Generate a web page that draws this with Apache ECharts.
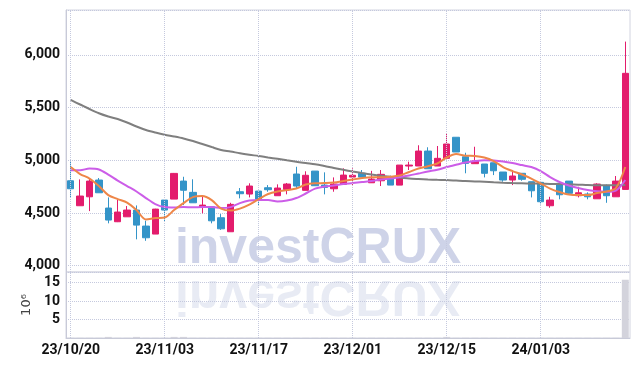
<!DOCTYPE html>
<html>
<head>
<meta charset="utf-8">
<script src="https://cdn.jsdelivr.net/npm/echarts@6/dist/echarts.min.js"></script>
<style>
html,body{margin:0;padding:0;background:#fff;}
#chart{width:639px;height:366px;}
</style>
</head>
<body>
<div id="chart"></div>
<script>
const dates = ['23/10/20','23/10/23','23/10/24','23/10/25','23/10/26','23/10/27','23/10/30','23/10/31','23/11/01','23/11/02',
'23/11/03','23/11/06','23/11/07','23/11/08','23/11/09','23/11/10','23/11/13','23/11/14','23/11/15','23/11/16',
'23/11/17','23/11/20','23/11/21','23/11/22','23/11/23','23/11/24','23/11/27','23/11/28','23/11/29','23/11/30',
'23/12/01','23/12/04','23/12/05','23/12/06','23/12/07','23/12/08','23/12/11','23/12/12','23/12/13','23/12/14',
'23/12/15','23/12/18','23/12/19','23/12/20','23/12/21','23/12/22','23/12/26','23/12/27','23/12/28','24/01/02',
'24/01/03','24/01/04','24/01/05','24/01/08','24/01/09','24/01/10','24/01/11','24/01/12','24/01/15','24/01/16'];

const open  = [4806,4569,4654,4813,4547,4417,4464,4528,4376,4300, 4623,4632,4803,4696,4554,4559,4455,4322,4702,4680,
               4708,4740,4664,4724,4870,4715,4898,4765,4730,4772, 4841,4877,4787,4806,4829,4765,4946,4946,5088,4946,
               5019,5219,5034,4968,4965,4977,4889,4813,4877,4797, 4791,4569,4782,4803,4664,4680,4635,4762,4654,4724];
const close = [4730,4661,4803,4692,4433,4509,4528,4385,4265,4537, 4528,4876,4716,4597,4575,4426,4350,4582,4683,4756,
               4630,4721,4737,4775,4756,4858,4759,4743,4775,4860, 4858,4841,4822,4867,4765,4955,4955,5088,4920,5019,
               5155,5079,4971,4993,4877,4901,4813,4851,4820,4711, 4607,4623,4673,4687,4692,4654,4775,4664,4803,5826];
const low   = [4648,4569,4518,4692,4402,4414,4464,4250,4236,4300, 4417,4632,4575,4597,4497,4402,4340,4322,4639,4648,
               4575,4702,4664,4677,4730,4715,4759,4677,4702,4772, 4756,4841,4787,4756,4765,4765,4908,4946,4920,4946,
               5019,5079,4877,4968,4838,4860,4797,4765,4806,4648, 4582,4550,4630,4680,4648,4630,4635,4597,4654,4724];
const high  = [4996,4819,4825,4832,4648,4630,4566,4572,4427,4540, 4630,4880,4844,4820,4661,4559,4490,4597,4737,4782,
               4708,4765,4772,4785,4939,4896,4898,4886,4838,4924, 4924,4908,4900,4908,4854,4955,4987,5143,5124,5136,
               5250,5219,5072,5129,4965,4977,4889,4908,4877,4797, 4791,4654,4782,4803,4749,4696,4782,4770,4851,6127];

const ma5  = [4936,4870,4827,4756,4670,4632,4599,4528,4438,4452, 4457,4528,4594,4651,4661,4623,4542,4523,4542,4580,
              4632,4680,4704,4718,4732,4770,4782,4784,4789,4803, 4818,4832,4839,4839,4844,4856,4889,4922,4943,4970,
              5027,5060,5044,5041,5027,4993,4936,4898,4865,4827, 4780,4732,4699,4675,4670,4670,4689,4704,4737,4937];
const ma20 = [4906,4906,4922,4913,4865,4808,4756,4704,4642,4585, 4556,4552,4556,4554,4556,4556,4547,4556,4594,4618,
              4623,4623,4609,4618,4642,4685,4732,4751,4761,4775, 4784,4794,4803,4818,4827,4841,4856,4875,4894,4911,
              4936,4958,4979,4993,5001,4998,4989,4974,4955,4936, 4898,4841,4794,4761,4737,4718,4706,4702,4713,4813];
const maLong = [5573,5530,5487,5447,5416,5392,5359,5321,5288,5264, 5243,5226,5207,5183,5155,5126,5098,5084,5067,5053,
                5041,5027,5014,5000,4987,4974,4963,4946,4927,4910, 4894,4879,4865,4853,4844,4837,4827,4822,4818,4815,
                4813,4808,4803,4800,4796,4791,4787,4784,4782,4780, 4778,4776,4775,4772,4769,4765,4763,4763,4763,4765];
const volume = [0.05,0.05,0.05,0.05,0.3,0.05,0.05,0.3,0.05,0.05, 0.05,0.3,0.3,0.05,0.05,0.05,0.05,0.05,0.05,0.05,
                0.05,0.05,0.05,0.05,0.05,0.05,0.05,0.05,0.05,0.05, 0.05,0.05,0.05,0.05,0.05,0.05,0.05,0.05,0.05,0.05,
                0.3,0.05,0.05,0.05,0.05,0.05,0.05,0.05,0.05,0.05, 0.05,0.05,0.05,0.05,0.05,0.05,0.05,0.05,0.05,15.8];
const gridDates = ['23/10/20','23/11/03','23/11/17','23/12/01','23/12/15','24/01/03'];

const candles = open.map((o, i) => [o, close[i], low[i], high[i]]);
const FONT = '"Liberation Sans Narrow", Roboto, "Liberation Sans", sans-serif';
const GRIDC = '#c5c9de';
const vLines = gridDates.map(d => ({xAxis: d}));

const chart = echarts.init(document.getElementById('chart'), null, {renderer: 'canvas'});
chart.setOption({
  animation: false,
  backgroundColor: '#fff',
  graphic: [{
    type: 'group', x: 318, y: 272, z: -10, silent: true,
    children: [
      {type: 'text', z: -10, style: {text: 'investCRUX', x: 0, y: 2, font: 'bold 50px "Liberation Sans", Arial, sans-serif',
        fill: 'rgba(150,162,206,0.47)', align: 'center', verticalAlign: 'bottom'}},
      {type: 'text', z: -10, scaleY: -1, style: {text: 'investCRUX', x: 0, y: 2, font: 'bold 50px "Liberation Sans", Arial, sans-serif',
        fill: 'rgba(150,162,206,0.22)', align: 'center', verticalAlign: 'bottom'}}
    ]
  }],
  grid: [
    {left: 66, right: 9, top: 10, height: 262, show: true, borderColor: '#d2d4e0', borderWidth: 1},
    {left: 66, right: 9, top: 272, height: 66, show: true, borderColor: '#d2d4e0', borderWidth: 1}
  ],
  xAxis: [
    {type: 'category', gridIndex: 0, data: dates, boundaryGap: true,
     axisLine: {show: false}, axisTick: {show: false}, axisLabel: {show: false}, splitLine: {show: false}},
    {type: 'category', gridIndex: 1, data: dates, boundaryGap: true,
     axisLine: {show: true, lineStyle: {color: '#c8cad8'}}, axisTick: {show: false},
     axisLabel: {interval: 9, margin: 5, color: '#111', fontFamily: FONT, fontWeight: 'bold', fontSize: 14},
     splitLine: {show: false}}
  ],
  yAxis: [
    {type: 'value', gridIndex: 0, min: 3940, max: 6427, splitNumber: 5, scale: true,
     axisLine: {show: true, lineStyle: {color: '#c8cad8'}}, axisTick: {show: false},
     axisLabel: {showMinLabel: false, showMaxLabel: false, margin: 6, color: '#111', fontFamily: FONT, fontWeight: 'bold', fontSize: 14,
       formatter: v => v.toLocaleString('en-US')},
     splitLine: {show: true, lineStyle: {color: GRIDC, type: 'dotted', width: 1}}},
    {type: 'value', gridIndex: 1, min: 0, max: 17.9, interval: 5,
     name: '10\u2076', nameLocation: 'middle', nameRotate: 90, nameGap: 25,
     nameTextStyle: {fontFamily: '"DejaVu Sans", sans-serif', fontSize: 13, color: '#444'},
     axisLine: {show: true, lineStyle: {color: '#c8cad8'}}, axisTick: {show: false},
     axisLabel: {showMinLabel: false, showMaxLabel: false, margin: 6, color: '#111', fontFamily: FONT, fontWeight: 'bold', fontSize: 14},
     splitLine: {show: true, lineStyle: {color: GRIDC, type: 'dotted', width: 1}}}
  ],
  series: [
    {type: 'candlestick', xAxisIndex: 0, yAxisIndex: 0, data: candles, barWidth: '74%', z: 3,
     itemStyle: {color: '#e31c6c', color0: '#3494c8', borderColor: '#e31c6c', borderColor0: '#3494c8', borderWidth: 1},
     markLine: {silent: true, symbol: 'none', animation: false, label: {show: false},
       lineStyle: {color: GRIDC, type: 'dotted', width: 1}, emphasis: {disabled: true}, data: vLines}},
    {type: 'line', name: 'MA60', xAxisIndex: 0, yAxisIndex: 0, data: maLong, smooth: 0.3, symbol: 'none', z: 4,
     lineStyle: {color: '#7f7f7f', width: 2}},
    {type: 'line', name: 'MA20', xAxisIndex: 0, yAxisIndex: 0, data: ma20, smooth: 0.3, symbol: 'none', z: 4,
     lineStyle: {color: '#cc5de8', width: 2}},
    {type: 'line', name: 'MA5', xAxisIndex: 0, yAxisIndex: 0, data: ma5, smooth: 0.3, symbol: 'none', z: 5,
     lineStyle: {color: '#ee8648', width: 2}},
    {type: 'bar', xAxisIndex: 1, yAxisIndex: 1, data: volume, barWidth: '74%',
     itemStyle: {color: '#d3d3dc'},
     markLine: {silent: true, symbol: 'none', animation: false, label: {show: false},
       lineStyle: {color: GRIDC, type: 'dotted', width: 1}, emphasis: {disabled: true}, data: vLines}}
  ]
});
</script>
</body>
</html>
